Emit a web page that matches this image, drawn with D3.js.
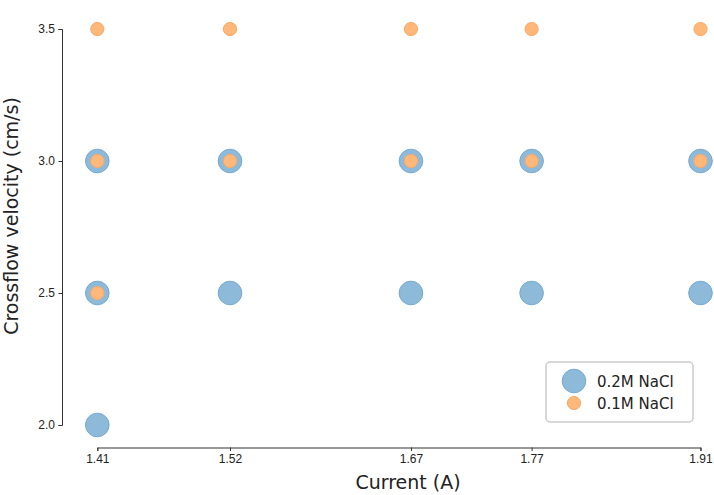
<!DOCTYPE html>
<html>
<head>
<meta charset="utf-8">
<script src="https://cdn.jsdelivr.net/npm/d3@7"></script>
<style>
  body { margin: 0; background: #fff; }
  svg { font-family: "DejaVu Sans", sans-serif; }
</style>
</head>
<body>
<svg id="chart" width="714" height="495"></svg>
<script>
// --- DATA ---
const xTicks = [1.41, 1.52, 1.67, 1.77, 1.91];
const yTicks = [2.0, 2.5, 3.0, 3.5];

const highSaltX = [1.41, 1.41, 1.41, 1.52, 1.52, 1.67, 1.67, 1.77, 1.77, 1.91, 1.91];
const highSaltY = [2.0, 2.5, 3.0, 2.5, 3.0, 2.5, 3.0, 2.5, 3.0, 2.5, 3.0];

const lowSaltX = [1.41, 1.41, 1.41, 1.52, 1.52, 1.67, 1.67, 1.77, 1.77, 1.91, 1.91];
const lowSaltY = [2.5, 3.0, 3.5, 3.0, 3.5, 3.0, 3.5, 3.0, 3.5, 3.0, 3.5];

const seriesNames = ["0.2M NaCl", "0.1M NaCl"];

const svg = d3.select("#chart");

const x = d3.scaleLinear().domain([1.41, 1.91]).range([97.3, 700.5]);
const y = d3.scaleLinear().domain([2.0, 3.5]).range([425, 29]);

// --- AXES (trimmed spines) ---
const xAxis = svg.append("g")
  .attr("transform", "translate(0,447.5)")
  .call(d3.axisBottom(x).tickValues(xTicks).tickFormat(d3.format(".2f")).tickSizeOuter(0).tickSize(3.5).tickPadding(3.5));

const yAxis = svg.append("g")
  .attr("transform", "translate(62,0)")
  .call(d3.axisLeft(y).tickValues(yTicks).tickFormat(d3.format(".1f")).tickSizeOuter(0).tickSize(3.5).tickPadding(3.5));

[xAxis, yAxis].forEach(a => {
  a.select(".domain").attr("stroke", "#333").attr("stroke-width", 1);
  a.selectAll(".tick line").attr("stroke", "#333");
  a.selectAll(".tick text").attr("fill", "#222").attr("font-size", 12);
});

// --- POINTS ---
const blueFill = "#8dbad9", blueEdge = "#74a9d2";
const orangeFill = "#ffb77a", orangeEdge = "#fba965";

svg.append("g")
  .selectAll("circle")
  .data(highSaltX.map((d, i) => ({ x: d, y: highSaltY[i] })))
  .enter()
  .append("circle")
  .attr("cx", d => x(d.x))
  .attr("cy", d => y(d.y))
  .attr("r", 11.8)
  .attr("fill", blueFill)
  .attr("stroke", blueEdge);

svg.append("g")
  .selectAll("circle")
  .data(lowSaltX.map((d, i) => ({ x: d, y: lowSaltY[i] })))
  .enter()
  .append("circle")
  .attr("cx", d => x(d.x))
  .attr("cy", d => y(d.y))
  .attr("r", 6.6)
  .attr("fill", orangeFill)
  .attr("stroke", orangeEdge);

// --- LABELS ---
svg.append("text")
  .attr("x", 408)
  .attr("y", 489)
  .attr("text-anchor", "middle")
  .attr("font-size", 19)
  .attr("fill", "#222")
  .text("Current (A)");

svg.append("text")
  .attr("transform", "translate(18,216) rotate(-90)")
  .attr("text-anchor", "middle")
  .attr("font-size", 19)
  .attr("fill", "#222")
  .text("Crossflow velocity (cm/s)");

// --- LEGEND ---
const legend = svg.append("g").attr("transform", "translate(546,362)");
legend.append("rect")
  .attr("width", 147)
  .attr("height", 60)
  .attr("rx", 4)
  .attr("fill", "#fff")
  .attr("fill-opacity", 0.8)
  .attr("stroke", "#ccc")
  .attr("stroke-width", 1.5);

const legendRows = [
  { name: seriesNames[0], fill: blueFill, edge: blueEdge, r: 11.8, cy: 19 },
  { name: seriesNames[1], fill: orangeFill, edge: orangeEdge, r: 6.6, cy: 41 }
];
legendRows.forEach(row => {
  legend.append("circle")
    .attr("cx", 28)
    .attr("cy", row.cy)
    .attr("r", row.r)
    .attr("fill", row.fill)
    .attr("stroke", row.edge);
  legend.append("text")
    .attr("x", 51)
    .attr("y", row.cy + 5.5)
    .attr("font-size", 15)
    .attr("fill", "#222")
    .text(row.name);
});
</script>
</body>
</html>
